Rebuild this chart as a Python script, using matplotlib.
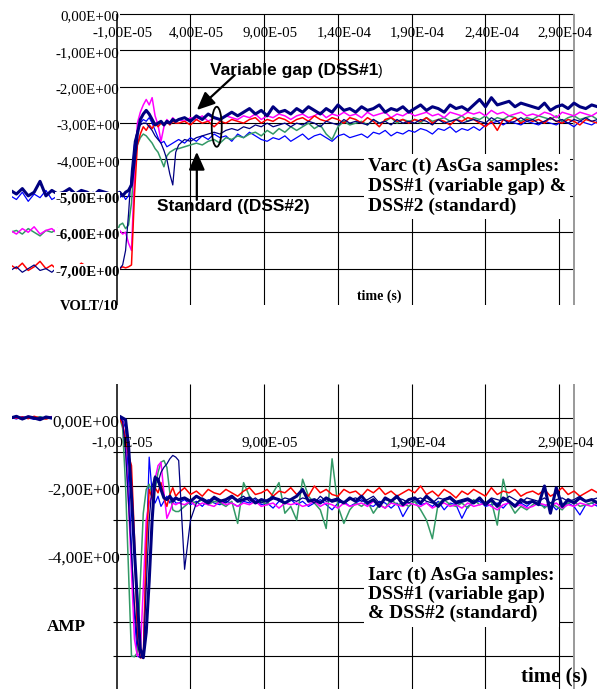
import numpy as np
import matplotlib
matplotlib.use("Agg")
import matplotlib.pyplot as plt
from matplotlib.patches import Ellipse

SERIF = "Liberation Serif"
SANS = "Liberation Sans"

# time base in microseconds: coarse before the trigger, finer around arc onset
t_us = np.concatenate([np.arange(-82, -10, 4), np.arange(-10, 32, 2), np.arange(32, 320, 4)])
time_s = t_us * 1e-6

# ---------------- Varc (t), VOLT/10 ----------------
varc_navy = [
    -4.85, -4.95, -4.8, -5.0, -4.9, -4.6, -5.0, -4.85, -4.95, -4.9, -4.8, -4.95, -4.85, -4.9, -5.0, -4.85, -4.9, -4.95,
    -4.95, -4.9, -5.0, -4.9, -4.85, -4.7, -4.0, -3.3, -2.9, -2.75, -2.65, -2.75, -2.9, -3.05, -3.0, -2.95, -3.05, -2.95, -3.0, -2.9, -2.95,
    -2.9, -2.85, -2.95, -2.8, -2.9, -2.75, -2.85, -2.9, -2.8, -2.7,
    -2.8, -2.7, -2.6, -2.75, -2.65, -2.8, -2.55, -2.7, -2.65, -2.75,
    -2.6, -2.7, -2.55, -2.65, -2.75, -2.6, -2.7, -2.5, -2.65, -2.6,
    -2.7, -2.55, -2.65, -2.6, -2.5, -2.7, -2.6, -2.65, -2.55, -2.7,
    -2.6, -2.5, -2.65, -2.55, -2.6, -2.7, -2.5, -2.6, -2.55, -2.65,
    -2.5, -2.35, -2.55, -2.3, -2.5, -2.45, -2.4, -2.55, -2.45, -2.5,
    -2.55, -2.6, -2.45, -2.65, -2.55, -2.5, -2.6, -2.45, -2.55, -2.6, -2.5, -2.55,
]
varc_blue = [
    -5.0, -5.1, -4.9, -5.15, -4.95, -5.05, -4.85, -5.1, -5.0, -4.9, -5.05, -4.95, -5.1, -5.0, -4.9, -5.05, -5.0, -4.95,
    -5.0, -5.05, -4.95, -5.1, -5.0, -4.6, -3.6, -3.2, -3.0, -2.9, -2.95, -2.85, -3.0, -3.2, -3.4, -3.55, -3.5, -3.65, -3.6, -3.55, -3.5,
    -3.45, -3.55, -3.4, -3.5, -3.35, -3.45, -3.3, -3.4, -3.35, -3.5,
    -3.3, -3.4, -3.25, -3.35, -3.45, -3.5, -3.4, -3.45, -3.35, -3.5,
    -3.4, -3.3, -3.45, -3.35, -3.3, -3.4, -3.5, -3.35, -3.3, -3.4,
    -3.35, -3.3, -3.4, -3.25, -3.3, -3.2, -3.35, -3.25, -3.3, -3.2,
    -3.25, -3.15, -3.2, -3.3, -3.15, -3.2, -3.1, -3.25, -3.15, -3.2,
    -3.1, -3.2, -3.05, -3.0, -2.95, -3.05, -2.95, -3.0, -3.05, -2.95,
    -3.0, -3.05, -2.95, -3.0, -3.05, -2.95, -3.0, -3.1, -2.95, -3.0, -3.05, -2.95,
]
varc_magenta = [
    -5.95, -6.05, -5.9, -6.0, -5.85, -6.05, -5.95, -5.9, -6.05, -5.95, -6.0, -5.9, -6.05, -5.95, -6.0, -5.9, -6.0, -5.95,
    -6.0, -5.95, -6.05, -6.0, -6.3, -6.5, -4.5, -3.0, -2.7, -2.5, -2.35, -2.5, -2.3, -2.8, -3.05, -3.5, -3.1, -2.9, -3.0, -2.85, -2.95,
    -2.9, -2.95, -2.85, -2.9, -2.8, -2.95, -2.85, -2.9, -2.8, -2.85,
    -2.9, -2.8, -2.85, -2.75, -2.9, -2.8, -2.85, -2.75, -2.8, -2.9,
    -2.8, -2.75, -2.85, -2.8, -2.7, -2.85, -2.75, -2.8, -2.7, -2.8,
    -2.75, -2.85, -2.7, -2.8, -2.75, -2.7, -2.85, -2.75, -2.8, -2.7,
    -2.8, -2.75, -2.7, -2.8, -2.75, -2.85, -2.7, -2.75, -2.8, -2.7,
    -2.75, -2.7, -2.8, -2.65, -2.75, -2.7, -2.8, -2.75, -2.7, -2.8,
    -2.75, -2.8, -2.7, -2.75, -2.85, -2.7, -2.75, -2.8, -2.7, -2.75, -2.8, -2.7,
]
varc_green = [
    -6.0, -5.95, -6.05, -5.9, -6.0, -6.1, -5.95, -6.0, -5.9, -6.05, -5.95, -6.0, -6.05, -5.9, -6.0, -5.95, -6.05, -6.0,
    -6.0, -5.8, -5.75, -5.9, -5.8, -5.2, -4.0, -3.6, -3.4, -3.3, -3.35, -3.45, -3.55, -3.7, -3.8, -4.0, -4.2, -3.9, -3.8, -3.75, -3.7,
    -3.7, -3.65, -3.6, -3.55, -3.6, -3.5, -3.45, -3.55, -3.4, -3.45,
    -3.35, -3.4, -3.3, -3.25, -3.35, -3.2, -3.3, -3.15, -3.25, -3.1,
    -3.2, -3.1, -3.0, -3.15, -3.05, -3.3, -3.45, -3.1, -2.95, -3.05,
    -3.0, -2.95, -3.05, -2.9, -3.0, -2.95, -2.85, -3.0, -2.9, -2.95,
    -2.9, -3.0, -2.85, -2.95, -2.9, -2.85, -2.95, -2.9, -2.8, -2.95,
    -2.85, -2.9, -2.8, -2.95, -2.85, -2.9, -2.8, -2.85, -2.95, -2.85,
    -2.9, -2.8, -2.85, -2.9, -2.8, -2.95, -2.85, -2.8, -2.9, -2.85, -2.8, -2.9,
]
varc_red = [
    -6.9, -7.0, -6.85, -7.05, -6.95, -6.8, -7.0, -6.9, -7.05, -6.95, -6.9, -7.0, -6.85, -6.95, -7.0, -6.9, -6.95, -7.0,
    -6.95, -7.0, -6.95, -6.98, -6.95, -6.9, -5.0, -3.6, -3.3, -3.1, -3.2, -3.05, -3.15, -3.0, -3.1, -3.0, -3.05, -2.95, -3.05, -2.95, -3.0,
    -3.0, -2.95, -3.05, -2.9, -3.0, -2.95, -3.1, -2.95, -3.0, -2.9,
    -2.95, -3.0, -2.9, -2.85, -3.0, -2.9, -2.95, -2.85, -2.9, -3.0,
    -2.9, -2.85, -2.95, -2.8, -2.9, -2.95, -2.85, -2.9, -3.0, -2.85,
    -2.9, -3.0, -2.85, -2.95, -3.1, -2.9, -2.85, -2.95, -2.9, -3.0,
    -2.9, -2.95, -2.85, -3.0, -2.9, -2.95, -3.05, -2.9, -2.95, -2.85,
    -2.9, -3.0, -3.1, -2.95, -3.2, -2.9, -2.95, -2.85, -3.0, -2.9,
    -2.95, -2.9, -3.0, -2.85, -2.95, -3.0, -2.9, -2.95, -3.05, -2.9, -2.95, -3.0,
]
varc_navy2 = [
    -7.05, -6.95, -7.1, -7.0, -6.9, -7.05, -7.0, -7.1, -6.95, -7.0, -7.05, -6.9, -7.0, -7.05, -6.95, -7.0, -7.1, -7.0,
    -7.05, -7.0, -6.9, -6.5, -5.5, -4.3, -3.5, -3.2, -3.05, -3.0, -3.0, -3.1, -3.2, -3.35, -3.45, -3.55, -3.75, -4.0, -4.4, -4.7, -3.8,
    -3.6, -3.45, -3.5, -3.4, -3.35, -3.3, -3.25, -3.3, -3.2, -3.15,
    -3.2, -3.1, -3.15, -3.05, -3.1, -3.0, -3.1, -3.05, -3.0, -3.1,
    -3.0, -3.05, -2.95, -3.0, -3.1, -2.95, -3.0, -3.05, -2.9, -3.0,
    -2.95, -3.0, -3.05, -2.9, -3.0, -2.95, -3.05, -2.9, -3.0, -2.95,
    -3.0, -2.9, -2.95, -3.05, -2.9, -3.0, -2.95, -2.9, -3.0, -2.95,
    -2.9, -2.95, -3.0, -2.85, -2.95, -2.9, -3.0, -2.95, -2.85, -2.95,
    -2.9, -3.0, -2.95, -2.85, -2.95, -2.9, -3.0, -2.9, -2.95, -2.85, -2.95, -2.9,
]

# ---------------- Iarc (t), AMP ----------------
iarc_navy = [
    0.0, 0.05, -0.03, 0.04, 0.0, -0.05, 0.03, 0.0, 0.05, -0.02, 0.03, 0.0, -0.04, 0.02, 0.05, 0.0, 0.03, 0.0,
    0.02, 0.05, 0.0, -0.05, -0.8, -2.3, -3.9, -5.4, -6.8, -7.05, -6.3, -4.8, -3.0, -1.75, -1.8, -2.1, -2.35, -2.4, -2.3, -2.45, -2.35,
    -2.4, -2.35, -2.45, -2.3, -2.4, -2.5, -2.35, -2.45, -2.4, -2.3,
    -2.45, -2.4, -2.35, -2.5, -2.4, -2.45, -2.35, -2.4, -2.5, -2.4,
    -2.3, -2.1, -2.45, -2.4, -2.5, -2.35, -2.45, -2.4, -2.5, -2.35,
    -2.45, -2.3, -2.5, -2.4, -2.6, -2.35, -2.45, -2.3, -2.55, -2.4,
    -2.35, -2.5, -2.3, -2.45, -2.6, -2.4, -2.35, -2.5, -2.45, -2.4,
    -2.5, -2.35, -2.55, -2.4, -2.6, -2.35, -2.45, -2.6, -2.4, -2.5,
    -2.45, -2.55, -2.0, -2.8, -2.05, -2.6, -2.4, -2.5, -2.35, -2.45, -2.4, -2.5,
]
iarc_blue = [
    0.02, -0.03, 0.04, 0.0, -0.04, 0.03, 0.0, -0.02, 0.04, 0.01, -0.03, 0.02, 0.0, 0.03, -0.02, 0.01, 0.0, 0.02,
    0.0, 0.03, -0.05, -0.3, -1.8, -3.8, -5.8, -7.0, -7.05, -7.0, -4.0, -1.15, -2.2, -2.5, -2.3, -2.6, -2.45, -2.3, -2.5, -2.35, -2.5,
    -2.5, -2.4, -2.55, -2.45, -2.6, -2.4, -2.5, -2.55, -2.45, -2.5,
    -2.6, -2.45, -2.5, -2.4, -2.55, -2.5, -2.65, -2.45, -2.5, -2.4,
    -2.55, -2.45, -2.6, -2.5, -2.4, -2.55, -2.7, -2.5, -2.45, -2.6,
    -2.5, -2.4, -2.55, -2.6, -2.45, -2.5, -2.65, -2.5, -2.9, -2.6,
    -2.45, -2.55, -2.5, -2.6, -2.45, -2.7, -2.5, -2.55, -2.95, -2.6,
    -2.5, -2.45, -2.6, -2.55, -2.5, -2.65, -2.45, -2.55, -2.5, -2.6,
    -2.45, -2.55, -2.6, -2.5, -2.7, -2.55, -2.5, -2.6, -2.85, -2.55, -2.5, -2.6,
]
iarc_magenta = [
    0.03, 0.0, -0.02, 0.05, 0.01, -0.03, 0.02, 0.04, -0.01, 0.03, 0.0, 0.02, -0.03, 0.01, 0.04, 0.0, 0.02, 0.05,
    0.05, 0.03, -0.1, -0.8, -2.5, -4.5, -6.5, -7.0, -6.9, -5.0, -3.0, -2.5, -2.3, -1.8, -1.4, -1.3, -2.2, -2.95, -2.75, -2.5, -2.55,
    -2.5, -2.55, -2.45, -2.6, -2.5, -2.55, -2.6, -2.45, -2.55, -2.5,
    -2.6, -2.5, -2.55, -2.45, -2.6, -2.55, -2.5, -2.65, -2.5, -2.55,
    -2.5, -2.6, -2.55, -2.45, -2.6, -2.5, -2.55, -2.65, -2.5, -2.6,
    -2.55, -2.5, -2.6, -2.45, -2.55, -2.65, -2.5, -2.55, -2.6, -2.5,
    -2.55, -2.6, -2.5, -2.65, -2.55, -2.5, -2.6, -2.55, -2.65, -2.5,
    -2.6, -2.55, -2.5, -2.6, -2.7, -2.55, -2.5, -2.6, -2.55, -2.65,
    -2.6, -2.5, -2.55, -2.6, -2.5, -2.65, -2.55, -2.6, -2.5, -2.55, -2.6, -2.5,
]
iarc_green = [
    0.0, 0.02, -0.04, 0.03, 0.0, 0.04, -0.02, 0.01, 0.03, -0.03, 0.02, 0.0, 0.04, -0.01, 0.02, 0.03, -0.02, 0.0,
    0.0, 0.02, -0.3, -2.0, -4.5, -7.0, -7.02, -6.9, -4.8, -2.8, -2.1, -1.95, -2.25, -2.1, -1.6, -1.3, -1.25, -1.45, -2.2, -2.7, -2.75,
    -2.75, -2.6, -2.45, -2.5, -2.4, -2.55, -2.45, -2.5, -2.6, -2.45,
    -3.1, -1.9, -2.3, -2.5, -2.45, -2.55, -2.2, -1.9, -2.8, -2.6,
    -3.0, -1.8, -2.3, -2.5, -2.7, -3.25, -1.2, -2.6, -3.1, -2.7,
    -2.5, -2.6, -2.45, -2.8, -2.55, -2.65, -2.4, -2.55, -2.5, -2.6,
    -2.45, -2.7, -3.0, -3.55, -2.5, -2.4, -2.55, -2.6, -2.5, -2.65,
    -2.4, -2.55, -2.5, -2.45, -3.15, -1.8, -2.5, -2.8, -2.6, -2.7,
    -2.55, -2.45, -2.65, -2.5, -2.6, -2.7, -2.5, -2.45, -2.6, -2.55, -2.5, -2.45,
]
iarc_red = [
    0.04, 0.0, 0.03, -0.02, 0.05, 0.0, -0.03, 0.02, 0.0, 0.04, -0.02, 0.03, 0.01, -0.03, 0.0, 0.04, 0.02, 0.0,
    0.02, 0.0, -0.2, -0.6, -1.1, -1.4, -3.5, -6.5, -7.05, -7.05, -3.8, -2.1, -2.35, -2.05, -2.2, -1.9, -2.35, -2.6, -2.25, -2.05, -2.3,
    -2.2, -2.05, -2.25, -2.15, -2.3, -2.1, -2.2, -2.25, -2.1, -2.2,
    -2.3, -2.15, -2.05, -2.25, -2.2, -2.1, -2.3, -2.15, -2.2, -2.05,
    -2.25, -2.15, -2.3, -2.0, -2.2, -2.1, -2.25, -2.3, -2.1, -2.2,
    -2.15, -2.3, -2.1, -2.2, -2.05, -2.25, -2.15, -2.3, -2.2, -2.1,
    -2.2, -2.0, -2.25, -2.15, -2.3, -2.1, -2.2, -2.35, -2.15, -2.25,
    -2.1, -2.2, -2.3, -2.05, -2.25, -2.15, -2.2, -2.1, -2.3, -2.2,
    -2.15, -2.25, -2.1, -2.3, -2.2, -2.05, -2.25, -2.15, -2.3, -2.2, -2.1, -2.2,
]
iarc_navy2 = [
    -0.02, 0.03, 0.0, 0.04, -0.03, 0.02, 0.0, 0.03, -0.02, 0.05, 0.0, -0.03, 0.02, 0.0, 0.04, -0.02, 0.03, 0.01,
    0.0, 0.03, -0.1, -1.0, -2.5, -4.0, -5.5, -6.6, -7.05, -7.0, -5.0, -3.0, -2.0, -1.7, -1.9, -1.6, -1.45, -1.35, -1.2, -1.1, -1.15,
    -1.25, -4.45, -3.0, -2.5, -2.35, -2.45, -2.3, -2.4, -2.5, -2.35,
    -2.4, -2.3, -2.45, -2.35, -2.5, -2.4, -2.3, -2.45, -2.35, -2.4,
    -2.45, -2.35, -2.4, -2.5, -2.3, -2.45, -2.4, -2.35, -2.5, -2.4,
    -2.35, -2.45, -2.4, -2.3, -2.5, -2.4, -2.45, -2.35, -2.4, -2.5,
    -2.4, -2.35, -2.45, -2.5, -2.35, -2.4, -2.3, -2.45, -2.4, -2.35,
    -2.45, -2.4, -2.5, -2.35, -2.4, -2.45, -2.3, -2.4, -2.5, -2.35,
    -2.4, -2.45, -2.35, -2.5, -2.4, -2.35, -2.45, -2.4, -2.3, -2.45, -2.4, -2.35,
]

# axis ticks
x_grid = [-1e-5, 4e-5, 9e-5, 1.4e-4, 1.9e-4, 2.4e-4, 2.9e-4]
x_labels_top = x_grid
x_labels_bot = [-1e-5, 9e-5, 1.9e-4, 2.9e-4]
v_ticks = [0, -1, -2, -3, -4, -5, -6, -7]
i_ticks = [0, -2, -4]
i_grid = [0, -1, -2, -3, -4, -5, -6, -7]

# line styles: (colour, width)
styles = {
    "blue": ("#0000FF", 0.9),
    "green": ("#339966", 1.1),
    "magenta": ("#FF00FF", 1.1),
    "red": ("#FF0000", 1.1),
    "navy2": ("#000080", 0.9),
    "navy": ("#000080", 2.2),
}

X_LO, X_HI = -8.1e-5, 3.156e-4
X_END = 3.0e-4


def sci(v):
    return f"{v:.2E}".replace(".", ",")


def frame(ax, y_lo, y_hi, hgrid):
    ax.set_xlim(X_LO, X_HI)
    ax.set_ylim(y_lo, y_hi)
    ax.axis("off")
    ax.hlines(hgrid, -1.27e-5, X_END, color="black", lw=0.8, zorder=1, clip_on=False)
    ax.vlines(x_grid[1:], y_lo, y_hi, color="black", lw=0.8, zorder=1)
    ax.vlines(X_END, y_lo, y_hi, color="#999999", lw=1.4, zorder=1)
    ax.vlines(-1e-5, y_lo, y_hi, color="black", lw=1.1, zorder=6)


fig = plt.figure(figsize=(5.97, 6.89), dpi=100)
ax1 = fig.add_axes([12 / 597, 1 - 305 / 689, 585 / 597, 291 / 689])
ax2 = fig.add_axes([12 / 597, 0, 585 / 597, 305 / 689])

# ---- top: arc voltage ----
frame(ax1, -8, 0, v_ticks)
for name, ys in [("blue", varc_blue), ("green", varc_green), ("magenta", varc_magenta),
                 ("red", varc_red), ("navy2", varc_navy2), ("navy", varc_navy)]:
    c, w = styles[name]
    ax1.plot(time_s, ys, color=c, lw=w, zorder=3)

for v in v_ticks:
    ax1.text(-8e-6, v - 0.08, sci(v), ha="right", va="center", family=SERIF, size=10.7,
             weight="bold" if v <= -5 else "normal",
             bbox=dict(fc="white", ec="none", pad=0.5), zorder=5)
for x in x_labels_top:
    ax1.text(x + 4e-6, -0.52, sci(x), ha="center", va="center", family=SERIF, size=10.7, zorder=5)

ax1.text(-9e-6, -8.05, "VOLT/10", ha="right", va="center", family=SERIF, size=10.5,
         weight="bold", clip_on=False)
ax1.text(1.677e-4, -7.77, "time (s)", ha="center", va="center", family=SERIF, size=10,
         weight="bold")
ax1.text(1.603e-4, -4.74, "Varc (t) AsGa samples:\nDSS#1 (variable gap) &\nDSS#2 (standard)",
         ha="left", va="center", family=SERIF, size=14, weight="bold", linespacing=1.2,
         bbox=dict(fc="white", ec="none", pad=3), zorder=5)

t_var = ax1.text(5.31e-5, -1.54, "Variable gap (DSS#1", ha="left", va="center",
                 family=SANS, size=12.5, weight="bold", zorder=7)
ax1.annotate(")", xy=(1, 0.45), xycoords=t_var, ha="left", va="center",
             family=SANS, size=10, zorder=7)
ax1.text(1.71e-5, -5.30, "Standard ((DSS#2)", ha="left", va="center",
         family=SANS, size=12.5, weight="bold", zorder=7)
arrow = dict(arrowstyle="-|>,head_length=0.9,head_width=0.4", color="black", lw=1.6,
             mutation_scale=12, shrinkA=0, shrinkB=0)
ax1.annotate("", xy=(4.43e-5, -2.64), xytext=(7.0e-5, -1.68), arrowprops=arrow, zorder=7)
ax1.annotate("", xy=(4.43e-5, -3.79), xytext=(4.43e-5, -5.11), arrowprops=arrow, zorder=7)
ax1.add_patch(Ellipse((5.78e-5, -3.10), width=6.8e-6, height=1.1, fill=False,
                      ec="black", lw=1.3, zorder=7))

# ---- bottom: arc current ----
frame(ax2, -7.97, 1.0, i_grid)
for name, ys in [("blue", iarc_blue), ("green", iarc_green), ("magenta", iarc_magenta),
                 ("red", iarc_red), ("navy2", iarc_navy2), ("navy", iarc_navy)]:
    c, w = styles[name]
    ax2.plot(time_s, ys, color=c, lw=w, zorder=3)

for v in i_ticks:
    ax2.text(-8e-6, v - 0.15, sci(v), ha="right", va="center", family=SERIF, size=12.3,
             bbox=dict(fc="white", ec="none", pad=0.5), zorder=5)
for x in x_labels_bot:
    ax2.text(x + 4e-6, -0.735, sci(x), ha="center", va="center", family=SERIF, size=11, zorder=5)

ax2.text(-5.75e-5, -6.15, "AMP", ha="left", va="center", family=SERIF, size=12.3, weight="bold")
ax2.text(2.865e-4, -7.9, "time (s)", ha="center", va="bottom", family=SERIF, size=15,
         weight="bold", zorder=7)
ax2.text(1.603e-4, -5.19, "Iarc (t) AsGa samples:\nDSS#1 (variable gap)\n& DSS#2 (standard)",
         ha="left", va="center", family=SERIF, size=14, weight="bold", linespacing=1.15,
         bbox=dict(fc="white", ec="none", pad=3), zorder=5)

fig.savefig("out.png", dpi=100)
